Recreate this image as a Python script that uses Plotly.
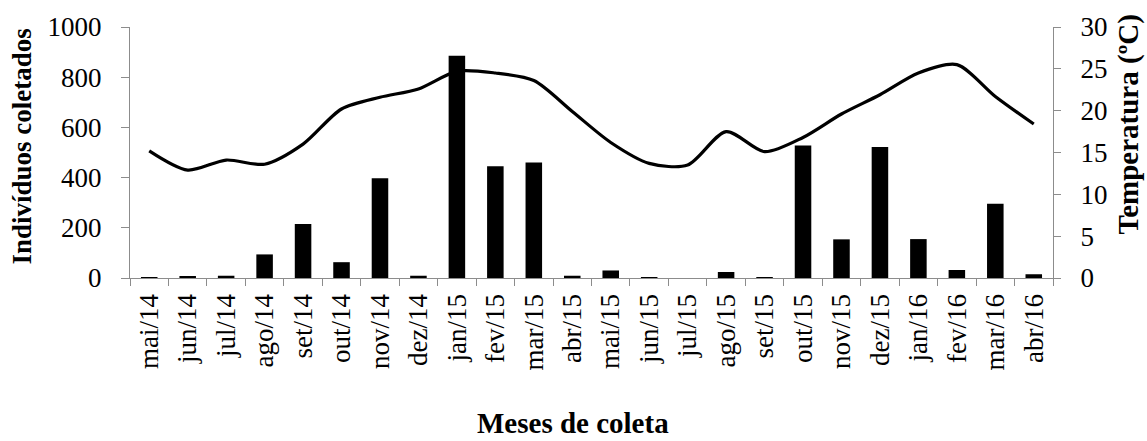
import plotly.graph_objects as go

months = ["mai/14", "jun/14", "jul/14", "ago/14", "set/14", "out/14", "nov/14", "dez/14",
          "jan/15", "fev/15", "mar/15", "abr/15", "mai/15", "jun/15", "jul/15", "ago/15",
          "set/15", "out/15", "nov/15", "dez/15", "jan/16", "fev/16", "mar/16", "abr/16"]
individuos = [3, 5, 9, 94, 215, 63, 397, 9,
              885, 445, 460, 9, 30, 4, 0, 24,
              4, 528, 154, 522, 155, 32, 296, 15]
temperatura = [15.2, 12.9, 14.1, 13.6, 16.0, 20.2, 21.6, 22.6,
               24.7, 24.5, 23.6, 19.9, 16.2, 13.7, 13.5, 17.5,
               15.1, 16.8, 19.6, 21.9, 24.5, 25.5, 21.7, 18.4]

FONT = "Liberation Serif"
AX = "#8c8c8c"

fig = go.Figure()
fig.add_trace(go.Bar(x=months, y=individuos, marker=dict(color="black", line=dict(width=0)),
                     yaxis="y", showlegend=False))
fig.add_trace(go.Scatter(x=months, y=temperatura, mode="lines", yaxis="y2",
                         line=dict(color="black", width=3.2, shape="spline", smoothing=0.8),
                         showlegend=False))

fig.update_layout(
    width=1147, height=441,
    margin=dict(l=129.5, r=94.3, t=25, b=163),
    paper_bgcolor="white", plot_bgcolor="white",
    bargap=0.57,
    font=dict(family=FONT, size=27, color="black"),
    xaxis=dict(type="category", tickson="boundaries", ticks="outside", ticklen=7,
               tickcolor=AX, showline=True, linecolor=AX, linewidth=1.3,
               tickangle=-90, tickfont=dict(family=FONT, size=27), showgrid=False,
               ticklabelstandoff=4),
    yaxis=dict(range=[0, 1000], dtick=200, ticks="outside", ticklen=8, tickcolor=AX,
               showline=True, linecolor=AX, linewidth=1.3, showgrid=False, zeroline=False,
               tickfont=dict(family=FONT, size=27), ticklabelstandoff=14),
    yaxis2=dict(range=[0, 30], dtick=5, overlaying="y", side="right", ticks="outside",
                ticklen=7, tickcolor=AX, showline=True, linecolor=AX, linewidth=1.3,
                showgrid=False, zeroline=False, tickfont=dict(family=FONT, size=27),
                ticklabelstandoff=14),
    annotations=[
        dict(text="<b>Meses de coleta</b>", xref="paper", yref="paper", x=(573-129.5)/923.2,
             y=-(424-278)/253, xanchor="center", yanchor="middle", showarrow=False,
             font=dict(family=FONT, size=29)),
        dict(text="<b>Indivíduos coletados</b>", xref="paper", yref="paper",
             x=-(129.5-22)/923.2, y=(278-146)/253, textangle=-90, xanchor="center",
             yanchor="middle", showarrow=False, font=dict(family=FONT, size=27)),
        dict(text="<b>Temperatura (ºC)</b>", xref="paper", yref="paper",
             x=1+(1128-1052.7)/923.2, y=(278-123)/253, textangle=-90, xanchor="center",
             yanchor="middle", showarrow=False, font=dict(family=FONT, size=29)),
    ],
)

fig.write_html("out.html", config={"displayModeBar": False},
               post_script="document.body.style.margin='0px';document.body.style.overflow='hidden';")
